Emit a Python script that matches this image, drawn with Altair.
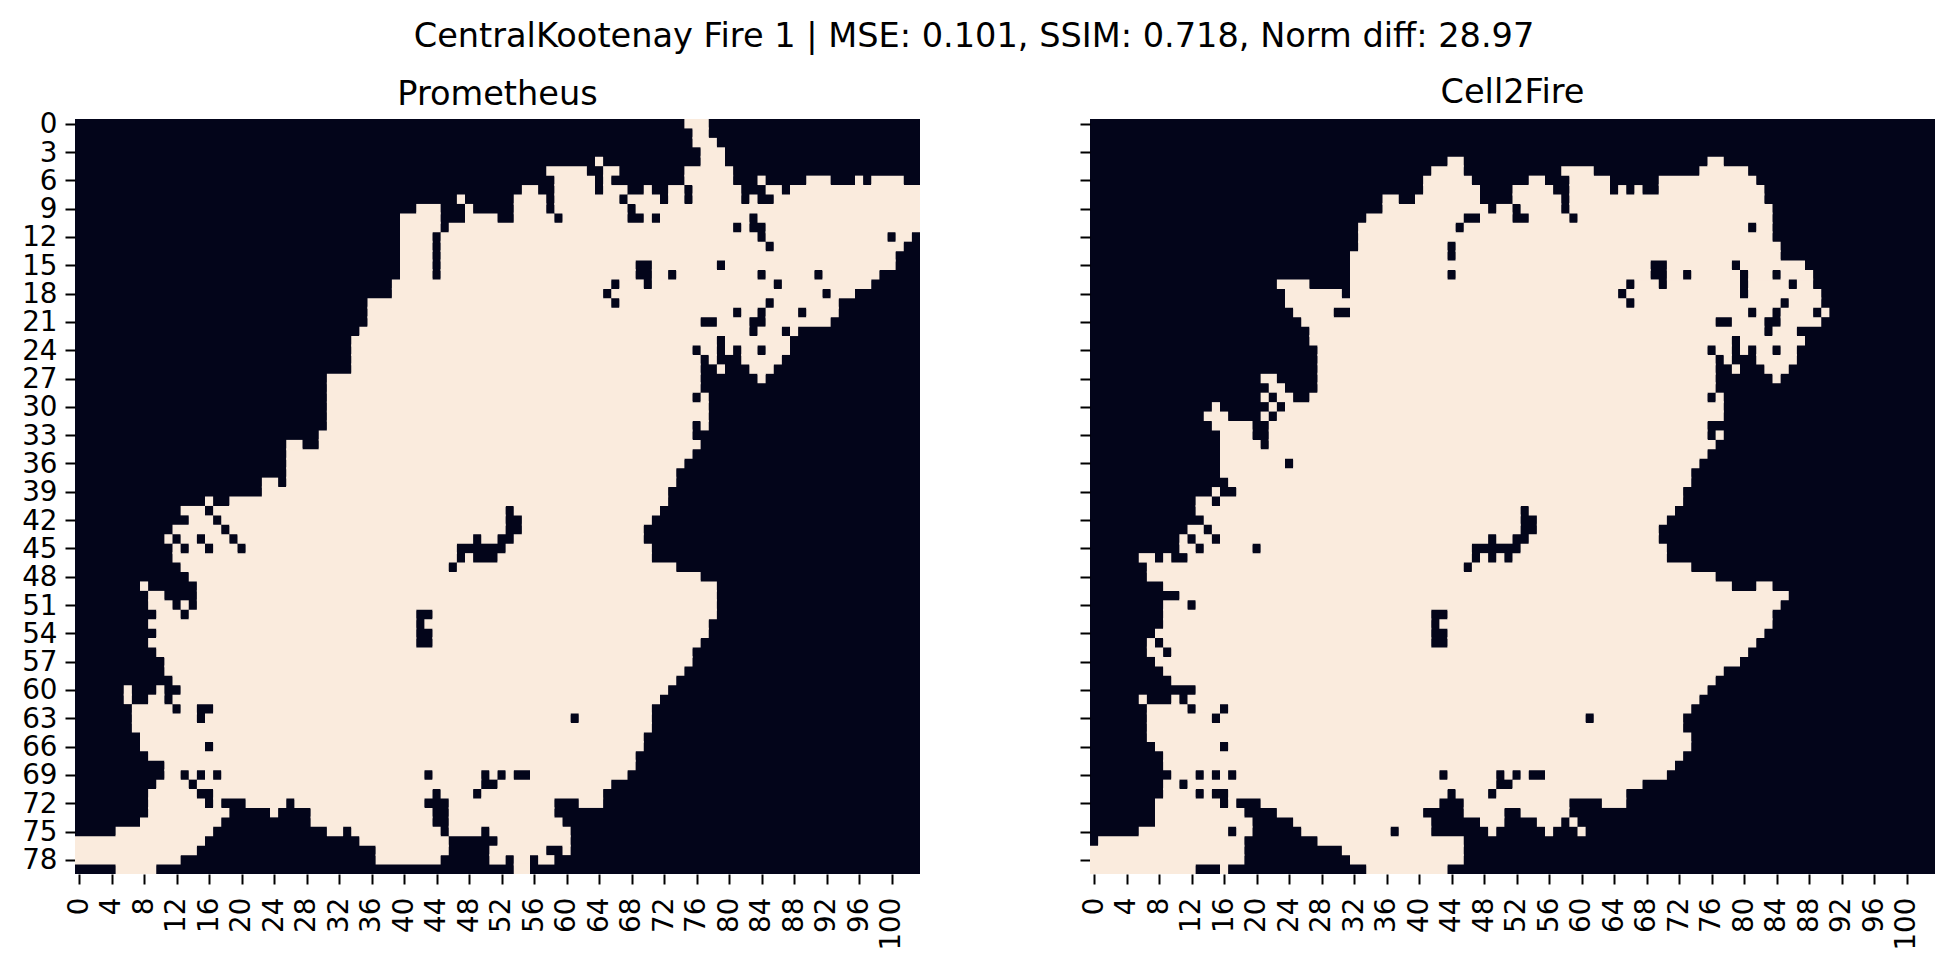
import altair as alt
import pandas as pd

N_COLS = 104
N_ROWS = 80
X_TICKS = list(range(0, 104, 4))
Y_TICKS = list(range(0, 80, 3))
COLOR_UNBURNED = "#03051a"
COLOR_BURNED = "#faebdd"
SUPTITLE = "CentralKootenay Fire 1 | MSE: 0.101, SSIM: 0.718, Norm diff: 28.97"

# Burned runs per row: [start, end) column indices.
PROMETHEUS = [
    [(75,78)],
    [(76,78)],
    [(76,79)],
    [(77,80)],
    [(64,65),(77,80)],
    [(58,63),(65,67),(75,81)],
    [(59,64),(65,66),(75,81),(84,85),(90,93),(96,97),(98,102)],
    [(55,57),(59,64),(65,68),(70,71),(73,75),(76,82),(85,87),(88,104)],
    [(47,48),(54,58),(59,67),(68,72),(73,75),(76,82),(83,84),(86,104)],
    [(42,45),(48,49),(54,58),(59,68),(69,104)],
    [(40,45),(48,52),(54,59),(60,68),(70,71),(72,83),(84,104)],
    [(40,45),(46,81),(82,83),(85,104)],
    [(40,44),(45,84),(85,100),(101,103)],
    [(40,44),(45,85),(86,102)],
    [(40,44),(45,101)],
    [(40,44),(45,69),(71,79),(80,101)],
    [(40,44),(45,69),(71,73),(74,84),(85,91),(92,99)],
    [(39,66),(67,70),(71,86),(87,98)],
    [(39,65),(66,92),(93,96)],
    [(36,66),(67,85),(86,94)],
    [(36,81),(82,84),(85,89),(90,94)],
    [(36,77),(79,83),(85,93)],
    [(35,83),(84,87),(88,89)],
    [(34,79),(80,88)],
    [(34,76),(77,79),(80,81),(82,84),(85,88)],
    [(34,77),(78,79),(82,87)],
    [(34,77),(79,80),(83,86)],
    [(31,77),(84,85)],
    [(31,77)],
    [(31,76),(77,78)],
    [(31,78)],
    [(31,78)],
    [(31,76),(77,78)],
    [(30,76)],
    [(26,28),(30,77)],
    [(26,76)],
    [(26,75)],
    [(26,74)],
    [(23,25),(26,74)],
    [(23,73)],
    [(16,17),(19,73)],
    [(13,16),(17,53),(54,72)],
    [(14,17),(18,53),(55,71)],
    [(12,18),(19,53),(55,70)],
    [(11,12),(13,15),(16,19),(20,49),(50,52),(54,70)],
    [(12,13),(14,16),(17,20),(21,47),(53,71)],
    [(12,47),(48,49),(52,71)],
    [(13,46),(47,74)],
    [(14,77)],
    [(8,9),(15,79)],
    [(9,11),(15,79)],
    [(9,12),(13,14),(15,79)],
    [(10,13),(14,42),(44,79)],
    [(9,42),(43,78)],
    [(10,42),(44,78)],
    [(9,42),(44,77)],
    [(10,76)],
    [(11,76)],
    [(11,75)],
    [(12,74)],
    [(6,7),(10,11),(13,73)],
    [(6,7),(9,11),(12,72)],
    [(7,12),(13,15),(17,71)],
    [(7,15),(16,61),(62,71)],
    [(7,71)],
    [(8,70)],
    [(8,16),(17,70)],
    [(9,69)],
    [(11,69)],
    [(11,13),(14,15),(16,17),(18,43),(44,50),(51,52),(53,54),(56,68)],
    [(10,14),(15,50),(52,66)],
    [(9,15),(17,44),(45,49),(50,65)],
    [(9,16),(17,18),(21,26),(27,43),(46,59),(62,65)],
    [(9,19),(24,25),(29,44),(46,59)],
    [(8,18),(29,44),(46,60)],
    [(5,17),(31,33),(34,45),(46,50),(51,61)],
    [(0,16),(35,46),(52,61)],
    [(0,15),(37,46),(51,58),(60,61)],
    [(0,13),(37,45),(51,53),(54,56),(57,59)],
    [(5,10),(54,56)],
]

CELL2FIRE = [
    [],
    [],
    [],
    [],
    [(44,46),(76,78)],
    [(42,46),(58,62),(75,81)],
    [(41,47),(54,56),(59,64),(70,82)],
    [(41,48),(52,57),(59,64),(65,66),(67,68),(70,83)],
    [(36,38),(40,48),(52,58),(59,83)],
    [(36,49),(50,52),(53,58),(59,84)],
    [(34,46),(48,52),(54,59),(60,84)],
    [(33,45),(46,81),(82,84)],
    [(33,84)],
    [(33,44),(45,85)],
    [(32,44),(45,85)],
    [(32,69),(71,79),(80,88)],
    [(32,44),(45,69),(71,73),(74,80),(81,84),(85,89)],
    [(23,27),(32,66),(67,70),(71,80),(81,86),(87,89)],
    [(24,31),(32,65),(66,80),(81,90)],
    [(24,66),(67,85),(86,90)],
    [(25,30),(32,81),(82,84),(85,89),(90,91)],
    [(26,77),(79,83),(85,90)],
    [(27,83),(84,87)],
    [(27,79),(80,88)],
    [(28,76),(77,79),(80,81),(82,84),(85,87)],
    [(28,77),(78,79),(82,87)],
    [(28,77),(79,80),(83,86)],
    [(21,23),(28,77),(84,85)],
    [(22,24),(28,77)],
    [(21,22),(23,25),(27,76),(77,78)],
    [(15,16),(22,23),(24,78)],
    [(14,17),(21,22),(23,78)],
    [(15,20),(22,76)],
    [(16,20),(22,76),(77,78)],
    [(16,21),(22,77)],
    [(16,76)],
    [(16,24),(25,75)],
    [(16,74)],
    [(17,74)],
    [(15,16),(18,73)],
    [(13,15),(16,73)],
    [(13,53),(54,72)],
    [(14,53),(55,71)],
    [(12,14),(15,53),(55,70)],
    [(11,12),(13,15),(16,49),(50,52),(54,70)],
    [(11,13),(14,20),(21,47),(53,71)],
    [(6,8),(9,10),(12,47),(48,49),(50,51),(52,71)],
    [(7,46),(47,74)],
    [(7,77)],
    [(9,79),(82,84)],
    [(11,86)],
    [(9,12),(13,85)],
    [(9,42),(44,84)],
    [(9,42),(43,84)],
    [(8,42),(44,83)],
    [(7,8),(9,42),(44,82)],
    [(7,9),(10,81)],
    [(8,80)],
    [(9,78)],
    [(10,77)],
    [(13,76)],
    [(6,7),(10,11),(12,75)],
    [(7,12),(13,16),(17,74)],
    [(7,15),(16,61),(62,73)],
    [(7,73)],
    [(7,74)],
    [(8,16),(17,74)],
    [(9,73)],
    [(9,72)],
    [(10,13),(14,15),(16,17),(18,43),(44,50),(51,52),(53,54),(56,71)],
    [(9,11),(12,50),(52,68)],
    [(9,13),(14,15),(17,44),(45,49),(50,66)],
    [(8,16),(17,18),(21,43),(46,59),(63,66)],
    [(8,19),(23,41),(46,51),(53,59)],
    [(8,20),(25,42),(48,51),(55,58),(59,60)],
    [(6,17),(18,20),(26,37),(38,42),(49,50),(56,57),(60,61)],
    [(1,19),(28,46)],
    [(0,19),(31,46)],
    [(0,19),(32,46)],
    [(0,13),(16,17),(34,44)],
]

FONT = "DejaVu Sans"
TICK_FONT = 27.8
TITLE_FONT = 33.6
PANEL_W = 845
PANEL_H = 755


def table(rows):
    records = [
        {"x0": a, "x1": b, "y0": r, "y1": r + 1}
        for r, runs in enumerate(rows)
        for a, b in runs
    ]
    # Thin bridges across shared row borders, so anti-aliasing leaves no seam
    # inside a burned area.
    for r in range(len(rows) - 1):
        for a, b in rows[r]:
            for c, d in rows[r + 1]:
                lo, hi = max(a, c), min(b, d)
                if lo < hi:
                    records.append({"x0": lo, "x1": hi, "y0": r + 0.9, "y1": r + 1.1})
    return pd.DataFrame(records)


def panel(rows, name, show_y_labels):
    extent = 62 if show_y_labels else 10
    y_axis = alt.Axis(
        values=[v + 0.5 for v in Y_TICKS],
        labelExpr="datum.value - 0.5",
        title=None,
        domain=False,
        grid=False,
        ticks=True,
        tickSize=10,
        tickWidth=2,
        tickColor="#000000",
        labels=show_y_labels,
        labelFont=FONT,
        labelFontSize=TICK_FONT,
        labelColor="#000000",
        labelPadding=8,
        labelOffset=1,
        labelOverlap=False,
        minExtent=extent,
        maxExtent=extent,
    )
    x_axis = alt.Axis(
        values=[v + 0.5 for v in X_TICKS],
        labelExpr="datum.value - 0.5",
        title=None,
        domain=False,
        grid=False,
        ticks=True,
        tickSize=10,
        tickWidth=2,
        tickColor="#000000",
        labelAngle=270,
        labelAlign="right",
        labelBaseline="middle",
        labelFont=FONT,
        labelFontSize=TICK_FONT,
        labelColor="#000000",
        labelPadding=13,
        labelOverlap=False,
    )
    return (
        alt.Chart(table(rows))
        .mark_rect(color=COLOR_BURNED)
        .encode(
            x=alt.X("x0:Q", scale=alt.Scale(domain=[0, N_COLS], nice=False, zero=False), axis=x_axis),
            x2="x1:Q",
            y=alt.Y(
                "y0:Q",
                scale=alt.Scale(domain=[N_ROWS, 0], nice=False, zero=False),
                axis=y_axis,
            ),
            y2="y1:Q",
        )
        .properties(
            width=PANEL_W,
            height=PANEL_H,
            title=alt.TitleParams(
                name,
                font=FONT,
                fontSize=TITLE_FONT,
                fontWeight="normal",
                color="#000000",
                offset=9,
                dy=10 if show_y_labels else 0,
            ),
        )
    )


chart = (
    alt.hconcat(panel(PROMETHEUS, "Prometheus", True), panel(CELL2FIRE, "Cell2Fire", False), spacing=159)
    .properties(
        title=alt.TitleParams(
            SUPTITLE, font=FONT, fontSize=TITLE_FONT, fontWeight="normal", color="#000000",
            anchor="middle", offset=23,
        ),
        padding={"left": 5, "top": 11, "right": 5, "bottom": 5},
    )
    .configure_view(fill=COLOR_UNBURNED, stroke=None)
)

chart.save("out.html", embed_options={"renderer": "svg", "actions": False})
